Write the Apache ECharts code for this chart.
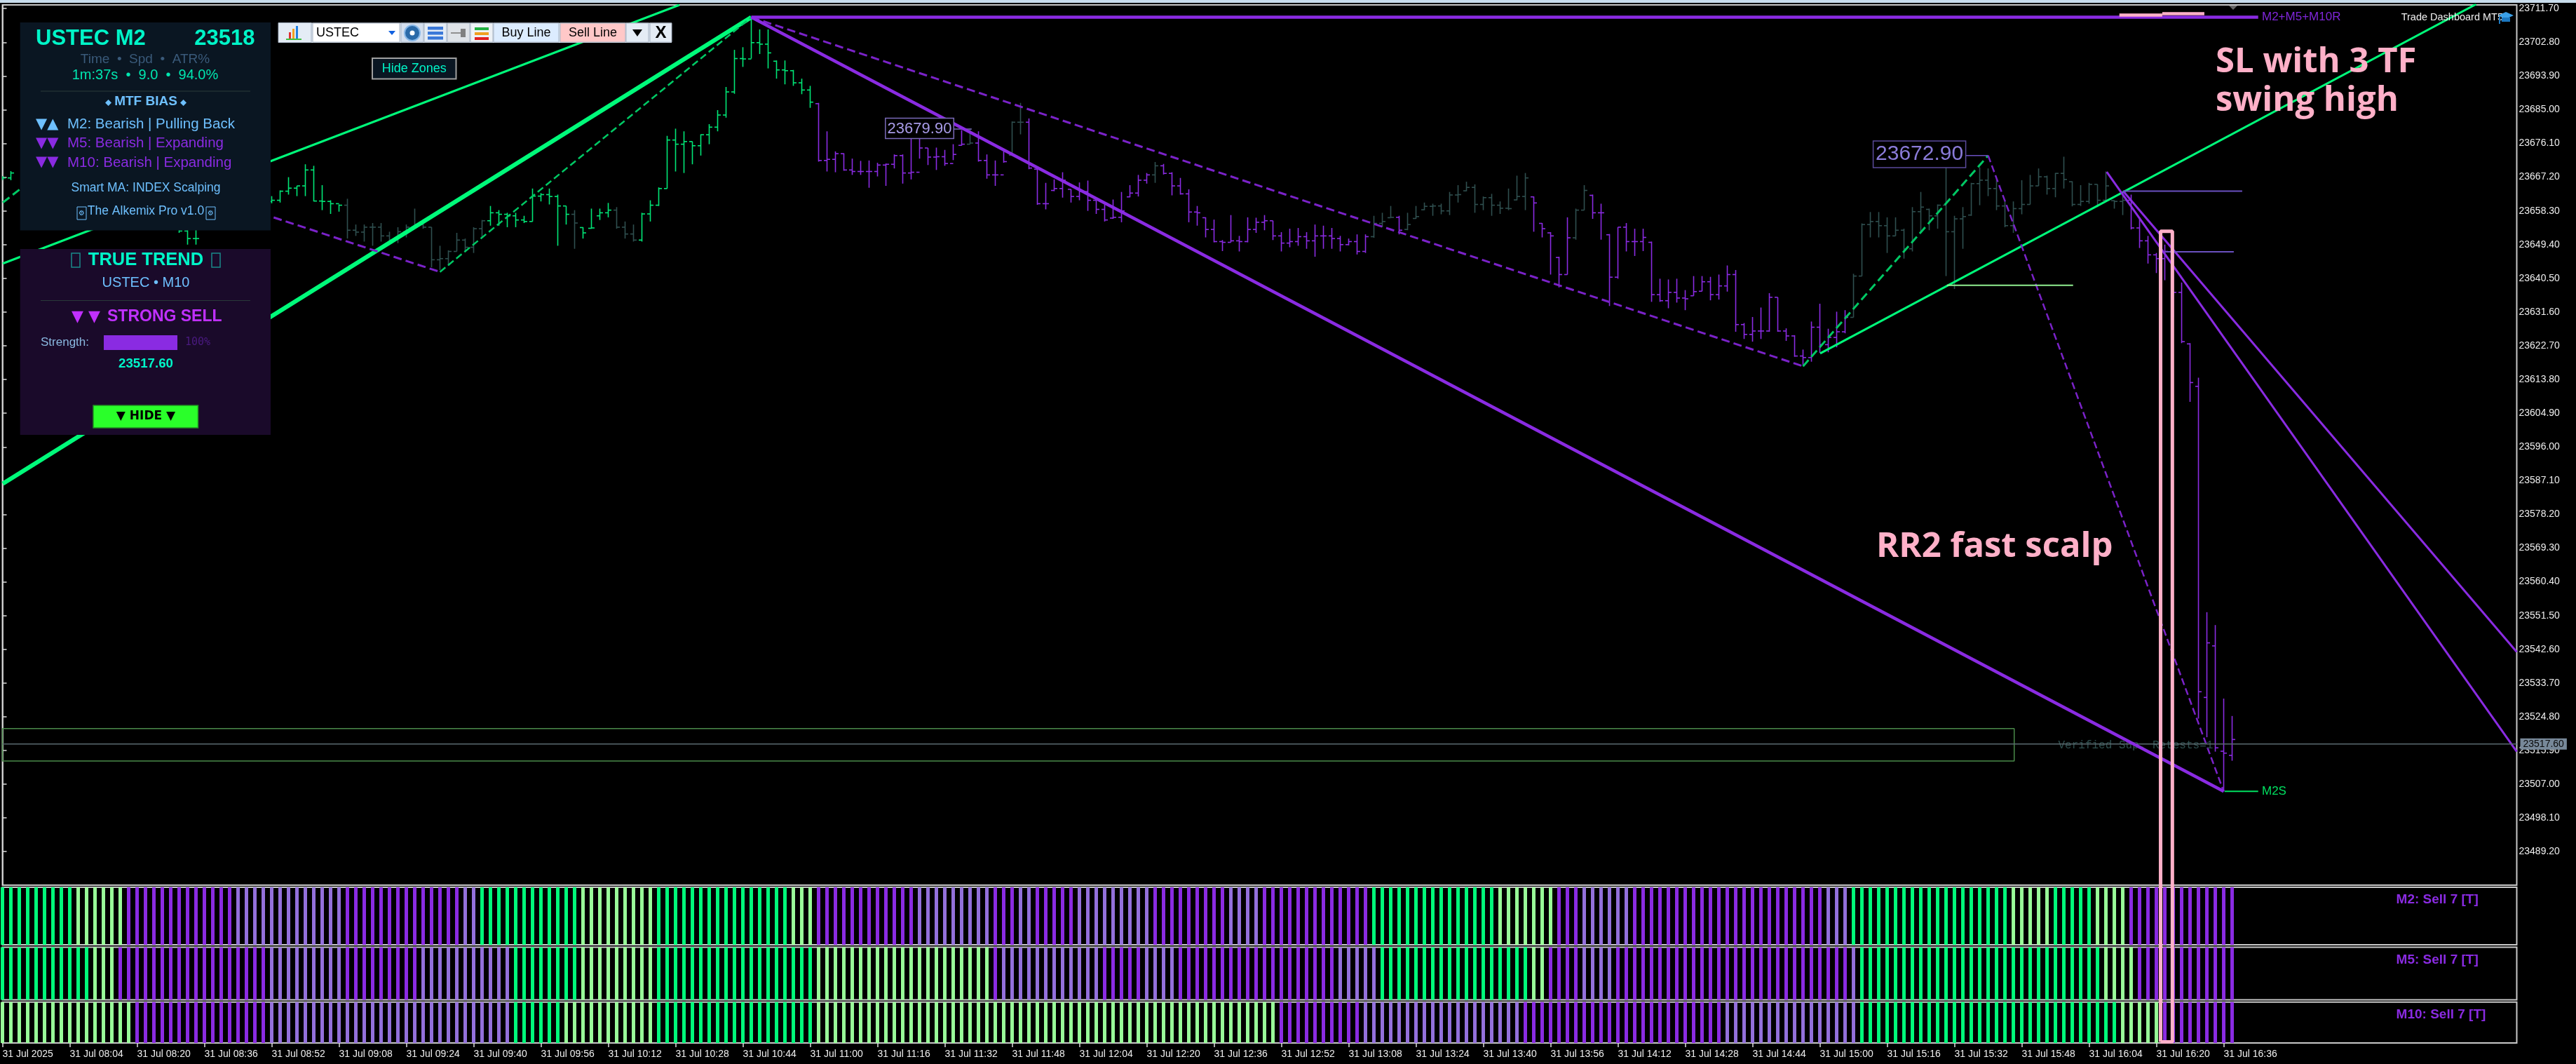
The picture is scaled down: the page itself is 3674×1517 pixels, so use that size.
<!DOCTYPE html>
<html><head><meta charset="utf-8">
<style>html,body{margin:0;padding:0;background:#000}#c{width:3674px;height:1517px}</style>
<script src="https://cdn.jsdelivr.net/npm/echarts@6/dist/echarts.min.js"></script>
</head><body><div id="c"></div>
<script>
// ---------- DATA ----------
const N=null;
const barOpen=[23666.6,23667.0,N,N,N,N,N,N,N,N,
N,N,N,N,N,N,N,N,N,N,
N,23655.0,23653.0,23651.0,N,N,N,N,N,N,
N,N,23660.8,23661.1,23663.5,23664.3,23664.9,23669.1,23660.9,23660.8,
23660.2,23659.8,23653.2,23652.7,23654.0,23654.0,23651.7,23650.6,23652.8,23654.0,
23654.7,23654.0,23645.4,23645.7,23647.6,23650.6,23648.7,23653.6,23655.7,23657.8,
23657.4,23657.0,23655.9,23655.5,23662.2,23662.6,23662.1,23659.6,23657.4,23653.9,
23653.7,23657.0,23657.8,23658.5,23654.0,23652.2,23650.6,23657.5,23659.8,23664.2,
23677.0,23675.9,23676.6,23675.5,23678.4,23680.4,23683.6,23689.7,23698.5,23698.4,
23702.7,23702.3,23697.8,23695.5,23695.3,23692.1,23690.2,23686.6,23671.6,23671.9,
23673.4,23669.1,23668.7,23668.7,23668.7,23670.4,23670.6,23672.9,23668.3,23668.5,
23674.9,23672.5,23672.6,23670.8,23675.6,23675.9,23676.2,23671.6,23667.8,23667.8,
23673.0,23681.7,23681.7,23669.3,23660.2,23663.7,23664.2,23664.0,23662.1,23663.4,
23661.1,23658.7,23656.4,23656.6,23662.0,23663.0,23666.4,23667.8,23670.2,23668.2,
23664.9,23662.8,23658.0,23656.5,23653.4,23650.2,23650.0,23650.4,23650.2,23653.4,
23655.3,23655.7,23651.7,23649.8,23650.2,23651.5,23650.4,23651.7,23651.7,23651.0,
23649.4,23650.2,23647.6,23651.5,23655.0,23656.5,23656.6,23653.4,23656.3,23658.6,
23659.5,23659.6,23658.3,23662.5,23663.6,23664.5,23660.0,23661.8,23659.8,23659.0,
23661.2,23662.1,23662.0,23655.0,23652.5,23646.0,23641.5,23651.2,23658.5,23662.4,
23657.8,23652.0,23640.8,23654.0,23650.2,23650.2,23650.0,23636.2,23634.6,23636.8,
23635.3,23635.9,23637.1,23639.6,23636.2,23638.5,23641.5,23628.3,23625.7,23626.6,
23626.6,23635.5,23626.6,23625.3,23620.0,23619.6,23627.6,23623.0,23624.9,23626.4,
23630.2,23641.1,23654.7,23655.5,23654.4,23651.7,23653.2,23648.3,23658.1,23658.7,
23657.0,23659.8,23652.8,23656.2,23657.2,23665.5,23666.4,23664.2,23659.6,23654.4,
23658.9,23660.0,23664.9,23667.3,23664.2,23668.2,23666.0,23660.0,23660.8,23665.3,
23661.1,23661.0,23660.8,23661.1,23653.8,23650.4,23646.7,23645.7,23647.6,23636.8,
23623.2,23612.0,23529.9,23543.5,23515.7,23514.6];
const barHigh=[23667.5,23668.8,N,N,N,N,N,N,N,N,
N,N,N,N,N,N,N,N,N,N,
N,23656.0,23656.0,23656.0,N,N,N,N,N,N,
N,N,23662.2,23663.7,23667.2,23664.9,23670.6,23670.2,23665.1,23661.1,
23660.0,23661.5,23654.7,23654.7,23655.1,23655.1,23652.8,23654.0,23654.7,23658.9,
23655.5,23654.0,23649.1,23647.9,23652.5,23651.0,23654.0,23655.9,23659.6,23658.5,
23657.8,23657.8,23657.0,23664.2,23663.0,23664.2,23662.6,23659.6,23658.5,23654.0,
23658.9,23658.9,23660.4,23659.3,23655.5,23654.7,23657.8,23661.1,23664.5,23678.1,
23680.0,23679.3,23676.6,23678.5,23681.2,23684.9,23691.0,23700.8,23701.5,23709.4,
23706.2,23706.2,23698.0,23698.0,23695.5,23693.2,23691.3,23686.8,23679.3,23674.0,
23673.5,23672.1,23671.5,23671.6,23671.0,23670.8,23673.2,23673.2,23678.5,23677.9,
23674.9,23675.0,23674.4,23675.9,23679.6,23680.0,23679.3,23673.2,23671.6,23674.0,
23681.9,23686.8,23682.7,23669.5,23665.7,23666.6,23668.5,23664.0,23665.8,23666.3,
23661.1,23660.0,23661.3,23663.3,23665.1,23667.8,23668.3,23671.2,23670.7,23668.5,
23667.0,23664.0,23659.6,23656.6,23656.0,23650.6,23657.2,23651.7,23656.6,23656.5,
23657.2,23655.7,23652.7,23653.6,23653.8,23652.7,23654.7,23654.4,23653.8,23651.7,
23651.0,23652.1,23652.1,23657.0,23657.8,23659.6,23657.0,23657.8,23659.6,23660.5,
23660.2,23660.2,23663.3,23665.1,23666.0,23665.3,23662.1,23662.8,23660.8,23664.2,
23667.6,23668.3,23662.1,23655.1,23652.7,23646.2,23656.6,23658.9,23665.1,23662.6,
23660.2,23652.2,23654.0,23655.1,23653.6,23653.6,23650.2,23640.4,23640.2,23640.4,
23637.4,23641.1,23641.1,23640.9,23641.5,23643.9,23642.7,23628.7,23630.3,23632.8,
23636.6,23635.5,23627.3,23625.5,23621.7,23629.1,23633.8,23627.2,23631.7,23632.1,
23641.7,23655.0,23658.0,23658.0,23656.6,23656.6,23653.6,23659.3,23663.3,23658.9,
23660.0,23671.0,23657.0,23659.3,23665.7,23669.8,23669.5,23666.8,23660.8,23660.8,
23666.4,23667.8,23669.5,23667.6,23668.3,23672.6,23666.1,23665.1,23665.7,23665.3,
23668.7,23661.1,23662.6,23662.6,23656.6,23651.7,23647.2,23649.4,23647.6,23639.4,
23623.4,23614.3,23552.4,23549.0,23529.6,23525.0];
const barLow=[23666.5,23666.4,N,N,N,N,N,N,N,N,
N,N,N,N,N,N,N,N,N,N,
N,23652.5,23649.4,23649.4,N,N,N,N,N,N,
N,N,23660.3,23660.5,23662.6,23662.2,23662.2,23660.8,23658.5,23657.5,
23658.1,23651.0,23651.7,23650.2,23649.1,23650.2,23649.4,23649.8,23651.3,23654.0,
23653.6,23643.4,23642.7,23643.8,23647.6,23647.6,23647.2,23651.3,23654.4,23654.4,
23654.0,23654.0,23655.1,23655.5,23660.8,23660.0,23649.1,23654.7,23648.3,23651.0,
23653.6,23655.9,23656.6,23653.6,23651.0,23650.2,23650.2,23655.5,23659.6,23664.2,
23668.7,23668.3,23670.6,23672.9,23675.9,23679.3,23682.9,23689.2,23696.3,23698.5,
23699.7,23695.9,23693.2,23691.7,23691.3,23689.1,23685.5,23671.3,23668.7,23668.5,
23668.9,23667.8,23667.8,23664.4,23667.4,23664.9,23669.5,23665.5,23666.6,23672.1,
23670.4,23669.1,23670.2,23671.7,23675.5,23675.9,23671.3,23666.8,23664.9,23671.0,
23672.9,23678.5,23669.3,23659.9,23658.7,23663.5,23661.8,23660.5,23661.1,23658.3,
23657.5,23655.5,23656.2,23655.3,23661.9,23662.1,23665.5,23665.7,23667.9,23662.4,
23662.6,23655.3,23654.4,23651.3,23650.0,23647.7,23650.0,23647.6,23650.0,23652.5,
23653.2,23650.6,23647.6,23648.7,23649.1,23648.3,23646.2,23648.3,23648.3,23647.6,
23649.2,23646.8,23647.2,23651.2,23654.0,23656.5,23652.1,23653.2,23656.2,23658.5,
23657.0,23657.4,23657.2,23660.5,23663.5,23657.8,23658.5,23657.0,23657.5,23658.5,
23661.1,23658.5,23652.8,23651.3,23641.5,23638.1,23641.5,23650.7,23658.5,23656.2,
23650.7,23633.2,23640.4,23647.6,23646.4,23647.7,23634.3,23634.3,23632.6,23634.1,
23632.1,23635.9,23637.1,23634.7,23634.9,23637.0,23626.4,23624.5,23623.8,23624.5,
23626.4,23626.4,23624.0,23619.8,23617.7,23618.5,23620.8,23621.0,23622.3,23626.0,
23630.2,23641.1,23651.3,23651.3,23647.2,23651.7,23645.7,23647.6,23652.8,23653.2,
23653.6,23641.1,23637.7,23648.3,23657.0,23659.8,23662.2,23658.5,23654.0,23652.5,
23657.4,23660.0,23664.9,23662.6,23661.9,23664.2,23659.5,23659.6,23660.2,23659.3,
23660.8,23658.9,23657.2,23653.4,23648.5,23644.4,23641.9,23640.0,23630.2,23623.4,
23607.9,23524.3,23519.4,23515.6,23505.2,23513.2];
const barClose=[23667.0,23668.3,N,N,N,N,N,N,N,N,
N,N,N,N,N,N,N,N,N,N,
N,23653.0,23651.0,23651.0,N,N,N,N,N,N,
N,N,23661.1,23663.5,23664.3,23664.9,23669.1,23660.9,23660.8,23660.2,
23659.8,23653.2,23652.7,23654.0,23654.0,23651.7,23650.6,23652.8,23654.0,23654.7,
23654.0,23645.4,23645.7,23647.6,23650.6,23648.7,23653.6,23655.7,23657.8,23657.4,
23657.0,23655.9,23655.5,23662.2,23662.6,23662.1,23659.6,23657.4,23655.1,23652.5,
23653.8,23657.8,23658.5,23654.0,23652.2,23650.6,23657.5,23659.8,23664.2,23677.0,
23675.9,23676.6,23675.5,23678.4,23680.4,23683.6,23689.7,23698.5,23698.4,23702.7,
23702.3,23700.0,23695.5,23695.3,23692.1,23690.2,23687.0,23671.6,23671.9,23673.4,
23669.1,23668.7,23668.7,23668.7,23670.4,23670.6,23672.9,23668.3,23668.5,23674.9,
23672.5,23672.6,23670.8,23673.2,23675.9,23676.2,23671.6,23667.8,23667.8,23671.3,
23681.7,23681.7,23669.6,23660.2,23660.2,23664.2,23666.4,23662.1,23663.4,23661.1,
23658.7,23655.9,23656.6,23658.3,23663.0,23666.4,23667.8,23670.2,23668.2,23664.9,
23662.8,23658.0,23657.8,23653.4,23650.2,23650.0,23650.4,23650.2,23653.4,23655.3,
23655.7,23651.7,23649.8,23650.2,23651.5,23650.4,23651.7,23651.7,23651.0,23649.4,
23650.2,23647.6,23651.5,23655.0,23655.5,23656.6,23653.2,23654.7,23656.8,23659.5,
23659.6,23658.3,23662.5,23662.6,23664.5,23660.0,23661.8,23659.8,23659.0,23658.9,
23662.1,23667.0,23660.4,23653.6,23651.7,23641.5,23651.2,23658.5,23663.7,23657.8,
23657.8,23640.8,23654.0,23650.2,23650.2,23651.3,23636.2,23634.6,23636.8,23635.3,
23635.1,23637.0,23639.6,23636.2,23638.5,23641.5,23628.3,23625.7,23626.6,23626.6,
23635.5,23626.6,23625.3,23620.0,23619.6,23627.6,23623.0,23624.9,23626.4,23630.2,
23641.1,23654.7,23655.5,23654.4,23651.7,23653.2,23648.3,23658.1,23659.3,23657.0,
23659.8,23652.8,23656.2,23656.8,23665.5,23666.4,23664.2,23659.6,23654.4,23658.9,
23660.0,23664.9,23667.3,23664.2,23668.2,23666.6,23660.0,23660.8,23665.3,23661.1,
23664.9,23660.8,23661.1,23653.8,23650.4,23646.7,23645.7,23647.6,23636.8,23623.8,
23613.0,23531.4,23544.3,23516.6,23515.2,23518.8];
const barRuns=[[0,40,'up'],[41,57,'flat'],[58,67,'up'],[68,68,'flat'],[69,72,'up'],[73,75,'flat'],[76,96,'up'],[97,114,'down'],[115,115,'flat'],[116,119,'down'],[120,121,'flat'],[122,136,'down'],[137,137,'flat'],[138,162,'down'],[163,165,'flat'],[166,166,'down'],[167,181,'flat'],[182,186,'down'],[187,188,'flat'],[189,219,'down'],[220,252,'flat'],[253,265,'down']];
const m2Runs=[[0,8,'G'],[9,14,'L'],[15,27,'P'],[28,40,'V'],[41,54,'P'],[55,56,'V'],[57,68,'G'],[69,77,'L'],[78,93,'G'],[94,96,'L'],[97,108,'P'],[109,117,'V'],[118,120,'P'],[121,122,'V'],[123,127,'P'],[128,136,'V'],[137,145,'P'],[146,149,'V'],[150,162,'P'],[163,177,'G'],[178,184,'L'],[185,187,'P'],[188,193,'V'],[194,216,'P'],[217,219,'V'],[220,238,'G'],[239,243,'L'],[244,248,'G'],[249,252,'L'],[253,265,'P']];
const m5Runs=[[0,10,'G'],[11,13,'L'],[14,31,'P'],[32,40,'V'],[41,49,'P'],[50,60,'V'],[61,68,'G'],[69,77,'L'],[78,96,'G'],[97,117,'L'],[118,118,'P'],[119,130,'V'],[131,135,'P'],[136,139,'V'],[140,158,'P'],[159,163,'V'],[164,181,'G'],[182,183,'L'],[184,187,'P'],[188,191,'V'],[192,219,'P'],[220,220,'V'],[221,249,'G'],[250,253,'L'],[254,265,'P']];
const m10Runs=[[0,15,'L'],[16,31,'P'],[32,60,'V'],[61,66,'G'],[67,77,'L'],[78,96,'G'],[97,151,'L'],[152,161,'P'],[162,180,'V'],[181,204,'P'],[205,220,'V'],[221,251,'G'],[252,256,'L'],[257,265,'P']];
const priceTicks=[23711.7,23702.8,23693.9,23685.0,23676.1,23667.2,23658.3,23649.4,23640.5,23631.6,23622.7,23613.8,23604.9,23596.0,23587.1,23578.2,23569.3,23560.4,23551.5,23542.6,23533.7,23524.8,23515.9,23507.0,23498.1,23489.2];
const timeLabels=['31 Jul 2025','31 Jul 08:04','31 Jul 08:20','31 Jul 08:36','31 Jul 08:52','31 Jul 09:08','31 Jul 09:24','31 Jul 09:40','31 Jul 09:56','31 Jul 10:12','31 Jul 10:28','31 Jul 10:44','31 Jul 11:00','31 Jul 11:16','31 Jul 11:32','31 Jul 11:48','31 Jul 12:04','31 Jul 12:20','31 Jul 12:36','31 Jul 12:52','31 Jul 13:08','31 Jul 13:24','31 Jul 13:40','31 Jul 13:56','31 Jul 14:12','31 Jul 14:28','31 Jul 14:44','31 Jul 15:00','31 Jul 15:16','31 Jul 15:32','31 Jul 15:48','31 Jul 16:04','31 Jul 16:20','31 Jul 16:36'];
const lastPrice=23517.6;
// overlay lines in [bar index, price]
const thickUp=[[0.04,23586.3],[89,23709.4]];
const thinUpLeft=[[0.04,23644.4],[80.46,23712.66]];
const thinUpRight=[[216.04,23620.7],[294,23712.85]];
const thickDown=[[89,23709.4],[264,23505.1]];
const topLevel=[[89,23709.4],[268.1,23709.4]];
const dashUp1=[[0.04,23660.5],[8,23674.2]];
const dashDown1=[[8,23674.2],[52,23642.2]];
const dashUp2=[[52,23642.2],[89,23709.4]];
const dashDown2=[[89,23709.4],[214,23617.3]];
const dashUp3=[[214,23617.3],[236,23672.9]];
const dashDown3=[[236,23672.9],[264,23505.1]];
const fanA=[[250.1,23668.6],[298.83,23515.6]];
const fanB=[[252.05,23663.5],[298.83,23541.9]];
const levelA=[[252.05,23663.5],[266.2,23663.5]];
const levelB=[[257,23647.5],[265.2,23647.5]];
const levelGreen=[[231.1,23638.65],[246.1,23638.65]];
const levelM2S=[[264.1,23505.1],[268.1,23505.1]];
const swingLinkA=[[233.3,23672.9],[236,23672.9]];
const swingLinkB=[[113,23679.9],[115.2,23679.9]];
const zoneBox=[[0,23521.7],[239.1,23521.7],[239.1,23513.1],[0,23513.1],[0,23521.7]];
const pinkBox=[[256.5,23439],[256.5,23652.9],[257.9,23652.9],[257.9,23439],[256.5,23439]];
const pinkTop1=[[251.6,23709.96],[256.7,23709.96]];
const pinkTop2=[[256.7,23710.33],[261.7,23710.33]];

// ---------- STYLE ----------
const C={G:'#00fa7a',L:'#98fb98',P:'#8a2be2',V:'#9370db',up:'#00e676',flat:'#2f4f4f',down:'#8a2be2',pink:'#ffb0c8',teal:'#00f5c8',sky:'#6ec0ff'};
const SANS='"Liberation Sans"';
const xMax=298.83;
function stateAt(runs,i){for(const r of runs){if(i>=r[0]&&i<=r[1])return r[2];}return null;}
const bars=[];
for(let i=0;i<barHigh.length;i++){ if(barHigh[i]!==null) bars.push([i,barOpen[i],barHigh[i],barLow[i],barClose[i],stateAt(barRuns,i)]); }
function paneData(runs){const d=[];for(let i=0;i<=265;i++){d.push({value:[i,1],itemStyle:{color:C[stateAt(runs,i)]}});}return d;}
function paneSeries(name,runs,idx){return {name,type:'bar',xAxisIndex:idx,yAxisIndex:idx,barWidth:5,silent:true,data:paneData(runs),z:3};}
function ln(name,data,color,width,type,extra){return Object.assign({name,type:'line',data,symbol:'none',silent:true,z:5,animation:false,lineStyle:{color,width,type:type||'solid'}},extra||{});}

const gridsDef=[{left:3.5,top:7,width:3586,height:1255},{left:3.5,top:1265,width:3586,height:82},{left:3.5,top:1350.5,width:3586,height:75},{left:3.5,top:1428.7,width:3586,height:58.3}];
const grids=gridsDef.map(g=>Object.assign({show:true,borderColor:'#c8c8c8',borderWidth:2,backgroundColor:'#000'},g));
const xAxes=gridsDef.map((g,k)=>({type:'value',gridIndex:k,min:0,max:xMax,splitLine:{show:false},axisLine:{show:false},
  axisTick:{show:k===3,length:6,lineStyle:{color:'#ddd',width:1.5},customValues:timeLabels.map((t,j)=>j*8)},
  axisLabel:{show:k===3,color:'#eee',fontFamily:SANS,fontSize:14,align:'left',margin:9,customValues:timeLabels.map((t,j)=>j*8),formatter:v=>timeLabels[Math.round(v/8)]}}));
const yAxes=[{type:'value',gridIndex:0,position:'right',min:23480.36,max:23712.66,splitLine:{show:false},
  axisLine:{show:true,lineStyle:{color:'#ddd',width:1.5}},axisTick:{show:true,length:6,inside:false,lineStyle:{color:'#ddd',width:1.5},customValues:priceTicks},
  axisLabel:{color:'#eee',fontFamily:SANS,fontSize:14,margin:3,customValues:priceTicks,formatter:v=>v.toFixed(2)}}]
  .concat([1,2,3].map(k=>({type:'value',gridIndex:k,min:0,max:1,show:false})));

function renderOHLC(params,api){
  const x=api.value(0),o=api.coord([x,api.value(1)]),h=api.coord([x,api.value(2)]),l=api.coord([x,api.value(3)]),c=api.coord([x,api.value(4)]);
  const col=C[api.value(5)];
  const st={stroke:col,lineWidth:1.6};
  return {type:'group',children:[
    {type:'line',shape:{x1:h[0],y1:h[1],x2:l[0],y2:l[1]},style:st},
    {type:'line',shape:{x1:h[0]-4.5,y1:o[1],x2:h[0],y2:o[1]},style:st},
    {type:'line',shape:{x1:h[0],y1:c[1],x2:h[0]+4.5,y2:c[1]},style:st}]};
}

// ---------- DECORATION ----------
const g=[];
function rect(x,y,w,h,fill,stroke,lw,z){g.push({type:'rect',shape:{x,y,width:w,height:h},style:{fill:fill||'transparent',stroke:stroke||null,lineWidth:lw||0},z:z||100,silent:true});}
function txt(t,x,y,font,fill,align,z){g.push({type:'text',style:{text:t,x,y,font,fill,textAlign:align||'left',textVerticalAlign:'middle'},z:z||101,silent:true});}
function poly(pts,fill,z){g.push({type:'polygon',shape:{points:pts},style:{fill},z:z||101,silent:true});}
rect(0,0,3674,4,'#c8dcec',null,0,50);
// swing labels
rect(2671.6,201,132,38,'#000','#5a4a9a',1.5,8);txt('23672.90',2737.6,220,'30px '+SANS,'#8a7bd8','center',9);
rect(1262.8,168.6,97.5,29,'#000','#7a6ab8',1.5,8);txt('23679.90',1311.5,183.5,'22px '+SANS,'#a89be8','center',9);
// annotations
txt('SL with 3 TF',3160,89,'bold 49px "Open Sans"',C.pink,'left',30);
txt('swing high',3160,144,'bold 49px "Open Sans"',C.pink,'left',30);
txt('RR2 fast scalp',2676,780,'bold 49px "Open Sans"',C.pink,'left',30);
txt('M2+M5+M10R',3226,24.5,'17px '+SANS,'#7f26d9','left',9);
txt('M2S',3226,1128.6,'17px '+SANS,'#00e060','left',9);
txt('Verified Sup. Retests=1',2935.5,1063,'16px "Liberation Mono"','#2f4f4f','left',6);
txt('Trade Dashboard MT5',3424.7,24.5,'14.5px '+SANS,'#f0f0f0','left',40);
poly([[3563,22],[3574,17],[3585,22],[3574,27]],'#3aa0e8',41);rect(3568,25,12,6,'#1c78c0',null,0,41);rect(3564,24,2,10,'#1c78c0',null,0,41);
poly([[3179,8],[3191,8],[3185,14]],'#666',20);
// pane labels
txt('M2: Sell 7 [T]',3417.6,1283,'bold 19px '+SANS,C.P);
txt('M5: Sell 7 [T]',3417.6,1368.7,'bold 19px '+SANS,C.P);
txt('M10: Sell 7 [T]',3417.6,1446.7,'bold 19px '+SANS,C.P);
// info panel 1
rect(28.7,32,357.3,296.6,'#0a1622');
txt('USTEC M2',51,55,'bold 31px '+SANS,C.teal);
txt('23518',363.5,55,'bold 31px '+SANS,C.teal,'right');
txt('Time  •  Spd  •  ATR%',207,84.5,'19px '+SANS,'#3a5a7a','center');
txt('1m:37s  •  9.0  •  94.0%',207,107,'20px '+SANS,'#00e6b0','center');
rect(58,129.5,299,1,'#2a3a3a');
txt('⬥ ',150,147,'13px "DejaVu Sans"',C.sky);
txt('MTF BIAS',208,145,'bold 19px '+SANS,C.sky,'center');
txt('⬥',257,147,'13px "DejaVu Sans"',C.sky);
txt('▼▲',51,177.5,'21px "DejaVu Sans"',C.sky);txt('M2: Bearish | Pulling Back',96,177.5,'20.5px '+SANS,C.sky);
txt('▼▼',51,204.5,'21px "DejaVu Sans"',C.P);txt('M5: Bearish | Expanding',96,204.5,'20.5px '+SANS,C.P);
txt('▼▼',51,232,'21px "DejaVu Sans"',C.P);txt('M10: Bearish | Expanding',96,232,'20.5px '+SANS,C.P);
txt('Smart MA: INDEX Scalping',208,268.6,'17.5px '+SANS,C.sky,'center');
txt('The Alkemix Pro v1.0',208,301,'17.5px '+SANS,C.sky,'center');
rect(110,295,13,18,null,C.sky,1);rect(294,295,13,18,null,C.sky,1);
txt('⚙',116.5,304,'10px "DejaVu Sans"',C.sky,'center');txt('⚙',300.5,304,'10px "DejaVu Sans"',C.sky,'center');
// info panel 2
rect(28.7,355,357.3,265,'#1a0a2a');
txt('TRUE TREND',208,370.6,'bold 25.5px '+SANS,C.teal,'center');
rect(102,361,12,20,null,'#1a8a8a',1.5);rect(302,361,12,20,null,'#1a8a8a',1.5);
txt('USTEC • M10',208,403,'20px '+SANS,C.sky,'center');
rect(58,428,299,1,'#2a3a3a');
txt('▼ ▼',102,452,'22px "DejaVu Sans"','#c030ff');
txt('STRONG SELL',153,452,'bold 23px '+SANS,'#c030ff');
txt('Strength:',58,488,'17px '+SANS,'#8ab8e0');
rect(148,478,105,21,C.P);
txt('100%',264,488,'15px "DejaVu Sans Mono"','#4a1a80');
txt('23517.60',208,519,'bold 18.7px '+SANS,C.teal,'center');
rect(133,578,149.5,32,'#2aff2a','#209020',1.5);
txt('▼ HIDE ▼',208,594,'bold 17px "DejaVu Sans"','#000','center');
// toolbar
rect(397,32.6,561,28.4,'#dfe8f2');
rect(397,32.6,47,28,'#e4ecf5','#a8b4c4',1);
rect(412,46,3,10,'#e03030');rect(417,41,3,15,'#f0a020');rect(422,37,3,19,'#2080e0');rect(408,55,22,2,'#40c040');
rect(446,33,124,27,'#fff','#a8b4c4',1);txt('USTEC',451,47,'18px '+SANS,'#000');
poly([[554,44],[564,44],[559,50]],'#1060e0');
rect(572,33,32,27,'#d4dfee','#a8b4c4',1);g.push({type:'circle',shape:{cx:588,cy:47,r:11},style:{fill:'#2a6aa8',stroke:'#88b8e8',lineWidth:2},z:101,silent:true});g.push({type:'circle',shape:{cx:588,cy:47,r:3.5},style:{fill:'#fff'},z:102,silent:true});
rect(605,33,32,27,'#e4ecf5','#a8b4c4',1);rect(610,38,22,4.5,'#3a78d8');rect(610,45,22,4.5,'#3a78d8');rect(610,52,22,4.5,'#3a78d8');
rect(638,33,32,27,'#dfe3e8','#a8b4c4',1);rect(643,46,16,2,'#909090');rect(657,41,7,12,'#808080');
rect(671,33,32,27,'#eef2f6','#a8b4c4',1);rect(677,39,20,4,'#20b040');rect(677,46,20,4,'#f0a020');rect(677,53,20,4,'#e02020');
rect(704,33,93,27,'#dcecff','#a8b4c4',1);txt('Buy Line',750.5,47,'18px '+SANS,'#000','center');
rect(799,33,93,27,'#ffc8c8','#a8b4c4',1);txt('Sell Line',845.5,47,'18px '+SANS,'#000','center');
rect(893,33,32,27,'#e4ecf5','#a8b4c4',1);poly([[902,42],[916,42],[909,52]],'#000');
rect(927,33,31,27,'#e4ecf5','#a8b4c4',1);txt('X',942.5,47,'bold 24px '+SANS,'#000','center');
rect(531,83,119.5,29.6,'#0a1622','#a0a0a0',2);txt('Hide Zones',590.7,98,'18px '+SANS,C.teal,'center');

const option={backgroundColor:'#000',animation:false,grid:grids,xAxis:xAxes,yAxis:yAxes,graphic:{elements:g},
 series:[
  paneSeries('M2',m2Runs,1),paneSeries('M5',m5Runs,2),paneSeries('M10',m10Runs,3),
  {name:'USTEC',type:'custom',xAxisIndex:0,yAxisIndex:0,renderItem:renderOHLC,data:bars,silent:true,z:4,encode:{x:0,y:[1,2,3,4]},clip:true},
  ln('zone',zoneBox,'#4a8a4a',1.5),
  ln('last',[[0,lastPrice],[xMax,lastPrice]],'#5a6a70',1.5,'solid',{z:6,endLabel:{show:true,distance:5,formatter:()=>lastPrice.toFixed(2),color:'#0a0a0a',backgroundColor:'#778899',fontFamily:SANS,fontSize:14,padding:[1,4,1,4]}}),
  ln('thickUp',thickUp,C.G,6),ln('thinUpLeft',thinUpLeft,C.G,3),ln('thinUpRight',thinUpRight,C.G,3),
  ln('thickDown',thickDown,C.P,4.5,'solid',{z:7}),ln('topLevel',topLevel,C.P,4.5),
  ln('dashUp1',dashUp1,'#00c864',3,'dashed'),ln('dashDown1',dashDown1,'#7a22c8',3,'dashed'),ln('dashUp2',dashUp2,'#00c864',2.5,'dashed'),
  ln('dashDown2',dashDown2,'#7a22c8',3,'dashed'),ln('dashUp3',dashUp3,'#00c864',3,'dashed'),ln('dashDown3',dashDown3,'#7a22c8',2.5,'dashed'),
  ln('fanA',fanA,C.P,3),ln('fanB',fanB,C.P,3),
  ln('levelA',levelA,'#6a50c0',2),ln('levelB',levelB,'#6a50c0',2),ln('levelGreen',levelGreen,'#90ee90',2),ln('levelM2S',levelM2S,'#00e060',2),
  ln('swingLinkA',swingLinkA,'#6a50c0',1.5),ln('swingLinkB',swingLinkB,'#7a6ab8',1.5),
  ln('pinkTop1',pinkTop1,C.pink,4.5,'solid',{z:8}),ln('pinkTop2',pinkTop2,C.pink,4.5,'solid',{z:8}),
  ln('pinkBox',pinkBox,C.pink,5,'solid',{z:20,clip:false})
 ]};
const chart=echarts.init(document.getElementById('c'),null,{renderer:'canvas'});
chart.setOption(option);
</script></body></html>
